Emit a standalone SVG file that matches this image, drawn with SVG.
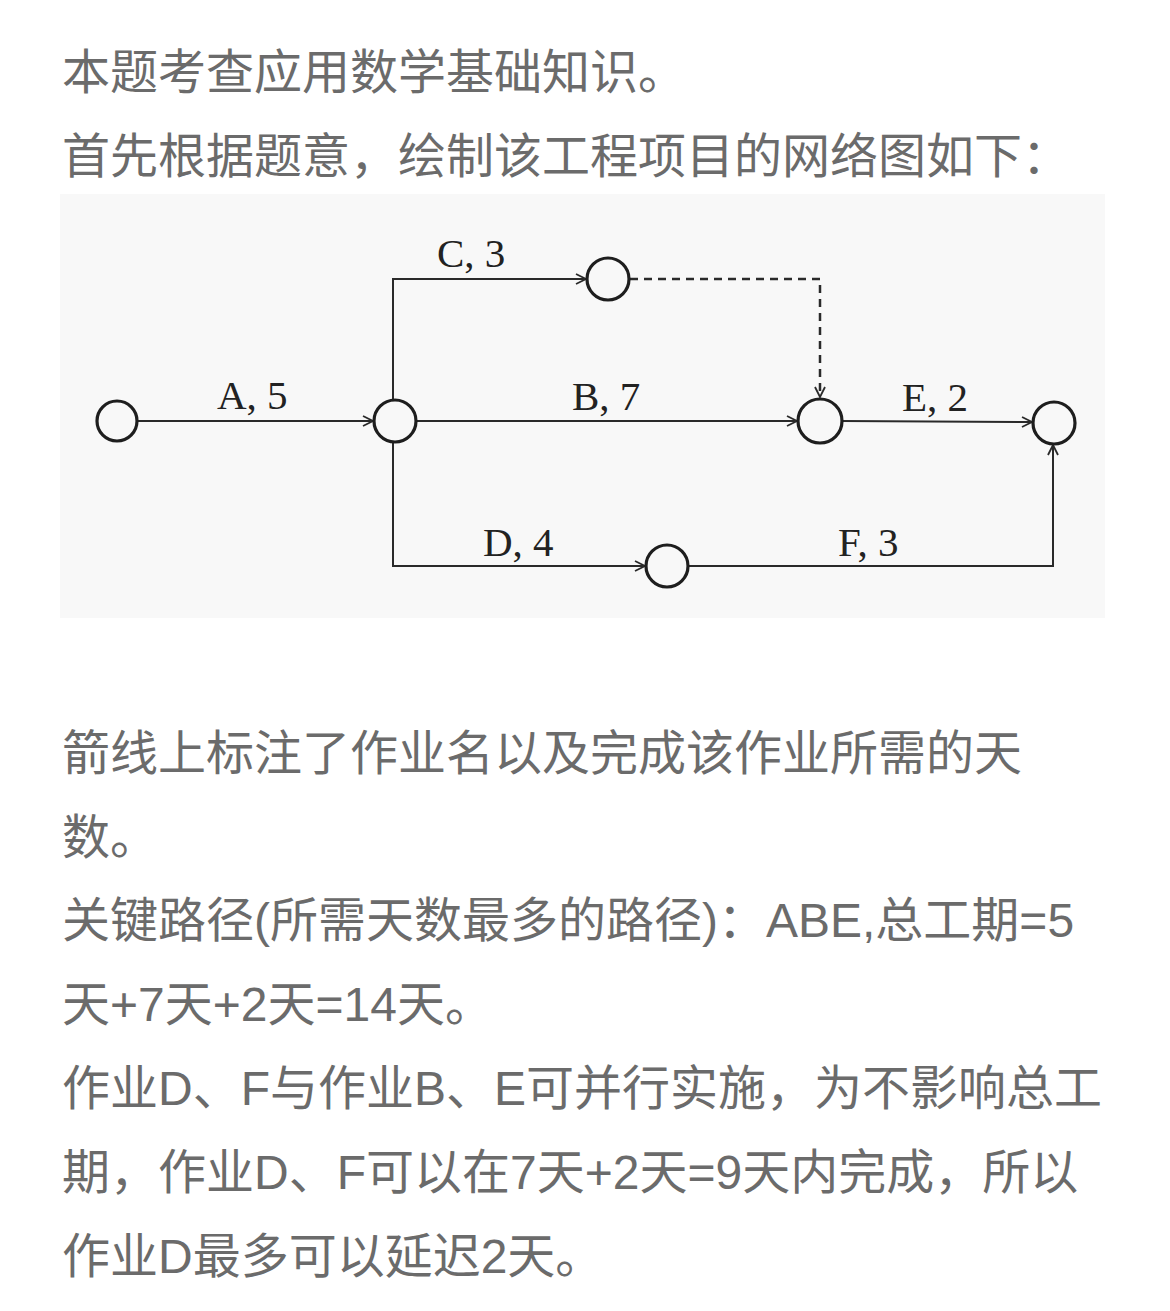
<svg xmlns="http://www.w3.org/2000/svg" width="1170" height="1311" viewBox="0 0 1170 1311">
<defs>
<style>
.para{font-family:"Liberation Sans","Noto Sans CJK SC",sans-serif;font-size:48px;fill:#6b6b6b;}
.lbl{font-family:"Liberation Serif","Noto Sans CJK SC",serif;font-size:41px;fill:#222;}
.node{fill:#f8f8f8;stroke:#1e1e1e;stroke-width:3.2;}
.edge{fill:none;stroke:#2a2a2a;stroke-width:2;}
.dash{fill:none;stroke:#2a2a2a;stroke-width:2.5;stroke-dasharray:8,6;}
</style>
<marker id="arr" viewBox="0 0 12 12" refX="11" refY="6" markerWidth="12" markerHeight="12" markerUnits="userSpaceOnUse" orient="auto">
<path d="M1,1 L11,6 L1,11" fill="none" stroke="#2a2a2a" stroke-width="1.8"/>
</marker>
</defs>
<rect width="1170" height="1311" fill="#ffffff"/>
<g id="text-top">
<text class="para" x="62" y="89">本题考查应用数学基础知识。</text>
<text class="para" x="62" y="173">首先根据题意，绘制该工程项目的网络图如下：</text>
</g>
<rect id="diagram-bg" x="60" y="194" width="1045" height="424" fill="#f8f8f8"/>
<g id="connectors">
<path class="edge" d="M138,421 L373,421" marker-end="url(#arr)"/>
<path class="edge" d="M393,400 L393,279 L586,279" marker-end="url(#arr)"/>
<path class="dash" d="M630,279 L820,279 L820,397" marker-end="url(#arr)"/>
<path class="edge" d="M417,421 L797,421" marker-end="url(#arr)"/>
<path class="edge" d="M842,421 L1032,422" marker-end="url(#arr)"/>
<path class="edge" d="M393,442 L393,566 L645,566" marker-end="url(#arr)"/>
<path class="edge" d="M689,566 L1053,566 L1053,445" marker-end="url(#arr)"/>
</g>
<g id="node-1"><circle class="node" cx="117" cy="421" r="20"/></g>
<g id="node-2"><circle class="node" cx="395" cy="421" r="21"/></g>
<g id="node-3"><circle class="node" cx="608" cy="279" r="21"/></g>
<g id="node-4"><circle class="node" cx="820" cy="421" r="22"/></g>
<g id="node-5"><circle class="node" cx="1054" cy="423" r="21"/></g>
<g id="node-6"><circle class="node" cx="667" cy="566" r="21"/></g>
<g id="edge-labels">
<text class="lbl" x="217" y="409">A, 5</text>
<text class="lbl" x="437" y="267">C, 3</text>
<text class="lbl" x="572" y="410">B, 7</text>
<text class="lbl" x="902" y="411">E, 2</text>
<text class="lbl" x="483" y="556">D, 4</text>
<text class="lbl" x="838" y="556">F, 3</text>
</g>
<g id="text-bottom">
<text class="para" x="62" y="770">箭线上标注了作业名以及完成该作业所需的天</text>
<text class="para" x="62" y="854">数。</text>
<text class="para" x="62" y="937">关键路径(所需天数最多的路径)：ABE,总工期=5</text>
<text class="para" x="62" y="1021">天+7天+2天=14天。</text>
<text class="para" x="62" y="1105">作业D、F与作业B、E可并行实施，为不影响总工</text>
<text class="para" x="62" y="1189">期，作业D、F可以在7天+2天=9天内完成，所以</text>
<text class="para" x="62" y="1273">作业D最多可以延迟2天。</text>
</g>
</svg>
